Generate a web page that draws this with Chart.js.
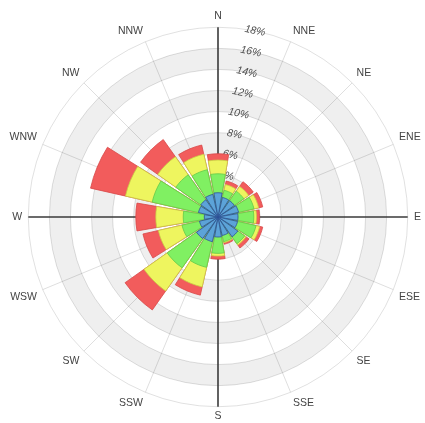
<!DOCTYPE html>
<html>
<head>
<meta charset="utf-8">
<script src="https://cdn.jsdelivr.net/npm/chart.js@4/dist/chart.umd.min.js"></script>
<style>
  html, body { margin: 0; padding: 0; background: #fff; }
  #wrap { width: 425px; height: 423px; position: relative; }
</style>
</head>
<body>
<div id="wrap"><canvas id="rose"></canvas></div>
<script>
// compass directions, clockwise from north
const directions = ["N", "NNE", "NE", "ENE", "E", "ESE", "SE", "SSE",
                    "S", "SSW", "SW", "WSW", "W", "WNW", "NW", "NNW"]

// frequency (%) per speed class, same order as directions
const calmSpeed  = [2.3, 1.9, 1.9, 2.0, 1.9, 1.9, 2.3, 1.8, 1.9, 2.4, 2.5, 1.8, 1.3, 1.9, 2.0, 2.2]
const lowSpeed   = [1.8, 0.7, 1.1, 1.5, 1.5, 1.8, 0.8, 0.6, 1.55, 2.5, 3.4, 1.7, 2.0, 4.5, 2.9, 2.4]
const midSpeed   = [1.3, 0.55, 0.55, 0.45, 0.25, 0.35, 0.15, 0.1, 0.25, 1.9, 2.7, 2.3, 2.6, 2.6, 2.1, 1.5]
const highSpeed  = [0.6, 0.35, 0.55, 0.4, 0.3, 0.3, 0.35, 0.15, 0.3, 0.8, 2.2, 1.5, 1.9, 3.4, 2.0, 0.9]

const tickMax = 18
const tickStep = 2
const bandRanges = [[2, 4], [6, 8], [10, 12], [14, 16]]

const GAP = 3                 // degrees between two bars
const BAR = 22.5 - GAP

// scale starts half way between N and NNE, so 32 label slots, compass names on odd slots
const labels = []
for (let i = 0; i < 32; i++) {
    labels.push(i % 2 === 1 ? directions[((i + 1) / 2) % 16] : "")
}

// arc order starts at NNE and ends with N; each direction = half gap, bar, half gap
const order = []
for (let k = 1; k <= 16; k++) order.push(k % 16)

function stacked(layers) {
    const out = []
    order.forEach(function(d) {
        let sum = 0
        layers.forEach(function(l) { sum += l[d] })
        out.push(0, sum, 0)
    })
    return out
}
const angles = []
order.forEach(function() { angles.push(GAP / 2, BAR, GAP / 2) })
const isGap = i => i % 3 !== 1

function makeSet(name, layers, fill, edge) {
    return {
        label: name,
        data: stacked(layers),
        angle: ctx => angles[ctx.dataIndex],
        backgroundColor: ctx => isGap(ctx.dataIndex) ? "rgba(0,0,0,0)" : fill,
        borderColor: edge,
        borderWidth: ctx => isGap(ctx.dataIndex) ? 0 : 0.8
    }
}

const datasets = [
    makeSet("calm", [calmSpeed], "#5ca3d8", "#2d4f95"),
    makeSet("low", [calmSpeed, lowSpeed], "#80f062", "#62c94a"),
    makeSet("mid", [calmSpeed, lowSpeed, midSpeed], "#eef55f", "#c9cf45"),
    makeSet("high", [calmSpeed, lowSpeed, midSpeed, highSpeed], "#f25c5c", "#d84848")
]

const bands = {
    id: "bands",
    beforeDraw(chart) {
        const s = chart.scales.r, c = chart.ctx
        c.save()
        c.fillStyle = "#efefef"
        bandRanges.forEach(function([a, b]) {
            c.beginPath()
            c.arc(s.xCenter, s.yCenter, s.getDistanceFromCenterForValue(b), 0, Math.PI * 2)
            c.arc(s.xCenter, s.yCenter, s.getDistanceFromCenterForValue(a), 0, Math.PI * 2, true)
            c.fill()
        })
        c.restore()
    }
}

const axisNames = ["N", "E", "S", "W"]

new Chart(document.getElementById("rose"), {
    type: "polarArea",
    data: {labels: labels, datasets: datasets},
    plugins: [bands],
    options: {
        responsive: true,
        maintainAspectRatio: false,
        animation: false,
        events: [],
        layout: {padding: {left: 6, top: 9, bottom: -9}},
        plugins: {legend: {display: false}, tooltip: {enabled: false}},
        scales: {
            r: {
                z: 1,
                min: 0,
                max: tickMax,
                startAngle: 11.25,
                grid: {circular: true, color: "rgba(0,0,0,0.12)", lineWidth: 1},
                angleLines: {
                    display: true,
                    color: ctx => ctx.label === "" ? "rgba(0,0,0,0)" : (axisNames.includes(ctx.label) ? "#3a3a3a" : "rgba(0,0,0,0.13)"),
                    lineWidth: ctx => ctx.label === "" ? 0 : (axisNames.includes(ctx.label) ? 1.6 : 1)
                },
                ticks: {
                    stepSize: tickStep,
                    showLabelBackdrop: false,
                    color: "#4d4d4d",
                    font: {family: "Liberation Sans", size: 10.5, style: "italic"},
                    callback: v => v + "%"
                },
                pointLabels: {
                    display: true,
                    color: "#444",
                    padding: ctx => ctx.label === "S" ? -3 : -1,
                    font: {family: "Liberation Sans", size: 10.5, lineHeight: 1}
                }
            }
        }
    }
})
</script>
</body>
</html>
